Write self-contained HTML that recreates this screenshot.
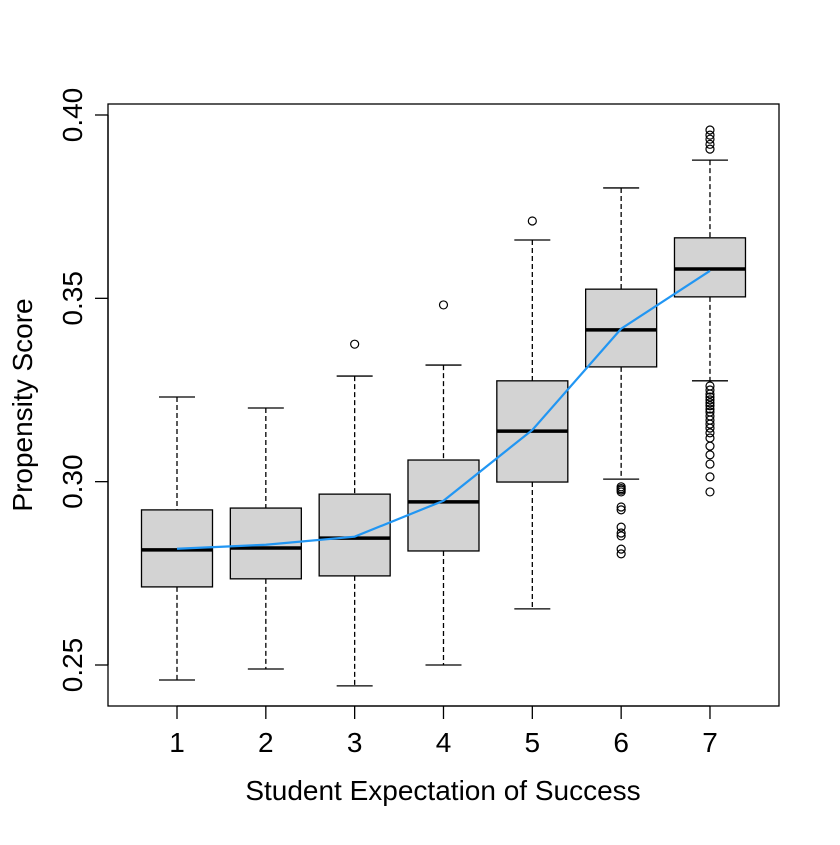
<!DOCTYPE html>
<html><head><meta charset="utf-8"><style>
body{margin:0;background:#fff}
svg text{font-family:"Liberation Sans",Arial,sans-serif;fill:#000}
</style></head><body>
<svg id="chart" width="840" height="840" xmlns="http://www.w3.org/2000/svg">
<rect width="840" height="840" fill="#fff"/>
<rect x="108" y="104" width="671" height="602" fill="none" stroke="#000" stroke-width="1.3"/>
<g id="marks"></g>
<g id="axes"></g>
<text x="443" y="800" font-size="28" text-anchor="middle">Student Expectation of Success</text>
<text transform="translate(32,405) rotate(-90)" font-size="28" text-anchor="middle">Propensity Score</text>
</svg>
<script>
const categories=["1","2","3","4","5","6","7"];
const whiskerHigh=[0.3231,0.3201,0.3288,0.3318,0.3659,0.3801,0.3877];
const q3=[0.2923,0.2928,0.2966,0.3059,0.3275,0.3525,0.3665];
const medians=[0.2814,0.2819,0.2846,0.2945,0.3138,0.3414,0.3580];
const q1=[0.2713,0.2735,0.2743,0.2811,0.2999,0.3313,0.3504];
const whiskerLow=[0.2459,0.2489,0.2443,0.2500,0.2653,0.3007,0.3275];
const means=[0.2817,0.2828,0.2850,0.2948,0.3141,0.3417,0.3575];
const outliers=[[],[],[0.3375],[0.3482],[0.3711],
[0.2986,0.2981,0.2977,0.2972,0.2931,0.2923,0.2876,0.2860,0.2852,0.2816,0.2803],
[0.3959,0.3945,0.3934,0.3920,0.3907,0.3261,0.3250,0.3239,0.3231,0.3223,0.3215,0.3207,0.3198,0.3190,0.3179,0.3168,0.3157,0.3146,0.3133,0.3119,0.3097,0.3073,0.3048,0.3013,0.2972]];
const yTicks=[0.25,0.30,0.35,0.40];
const yTickLabels=["0.25","0.30","0.35","0.40"];
const NS="http://www.w3.org/2000/svg";
const y=v=>665-(v-0.25)*3666.7;
const x=i=>177+i*88.83;
const marks=document.getElementById('marks'),axes=document.getElementById('axes');
function mk(p,tag,a){const e=document.createElementNS(NS,tag);for(const k in a)e.setAttribute(k,a[k]);p.appendChild(e);return e;}
categories.forEach((c,i)=>{
  const cx=x(i);
  const g=mk(marks,'g',{});
  
  
  mk(g,'line',{x1:cx,x2:cx,y1:y(whiskerHigh[i]),y2:y(q3[i]),stroke:'#000','stroke-width':1.3,'stroke-dasharray':'5,3'});
  mk(g,'line',{x1:cx,x2:cx,y1:y(q1[i]),y2:y(whiskerLow[i]),stroke:'#000','stroke-width':1.3,'stroke-dasharray':'5,3'});
  mk(g,'line',{x1:cx-18,x2:cx+18,y1:y(whiskerHigh[i]),y2:y(whiskerHigh[i]),stroke:'#000','stroke-width':1.3});
  mk(g,'line',{x1:cx-18,x2:cx+18,y1:y(whiskerLow[i]),y2:y(whiskerLow[i]),stroke:'#000','stroke-width':1.3});
  mk(g,'rect',{x:cx-35.5,y:y(q3[i]),width:71,height:y(q1[i])-y(q3[i]),fill:'#d3d3d3',stroke:'#000','stroke-width':1.3});
  mk(g,'line',{x1:cx-35.5,x2:cx+35.5,y1:y(medians[i]),y2:y(medians[i]),stroke:'#000','stroke-width':3.5});
  outliers[i].forEach(v=>{const o=mk(g,'circle',{cx:cx,cy:y(v),r:4,fill:'none',stroke:'#000','stroke-width':1.2});
    
    });
  mk(axes,'line',{x1:cx,x2:cx,y1:706,y2:719,stroke:'#000','stroke-width':1.3});
  const lb=mk(axes,'text',{x:cx,y:752,'font-size':28,'text-anchor':'middle'});lb.textContent=c;
  
  
});
mk(axes,'line',{x1:x(0),x2:x(6),y1:706,y2:706,stroke:'#000','stroke-width':1.3});
yTicks.forEach((v,i)=>{
  mk(axes,'line',{x1:95,x2:108,y1:y(v),y2:y(v),stroke:'#000','stroke-width':1.3});
  const t=mk(axes,'text',{transform:`translate(82,${y(v)}) rotate(-90)`,'font-size':28,'text-anchor':'middle'});t.textContent=yTickLabels[i];
  
  
});
mk(axes,'line',{x1:108,x2:108,y1:y(0.25),y2:y(0.40),stroke:'#000','stroke-width':1.3});
const ml=mk(marks,'polyline',{points:means.map((v,i)=>x(i)+','+y(v)).join(' '),fill:'none',stroke:'#2196f3','stroke-width':2.2});


</script>
</body></html>
